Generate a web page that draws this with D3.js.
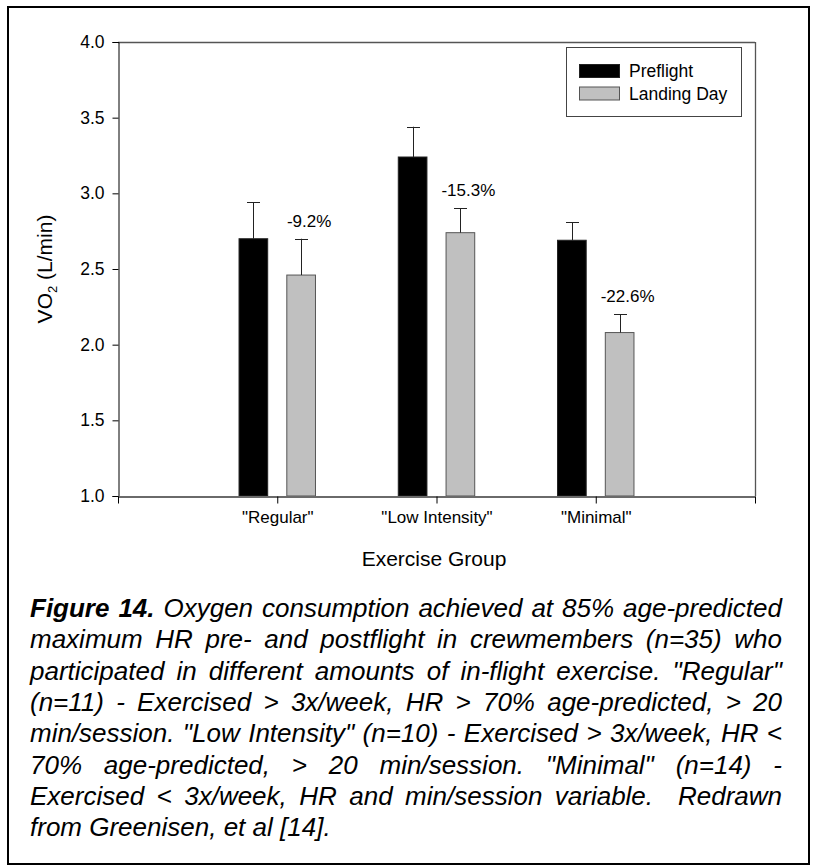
<!DOCTYPE html>
<html>
<head>
<meta charset="utf-8">
<script src="https://cdn.jsdelivr.net/npm/d3@7"></script>
<style>
  html, body { margin: 0; padding: 0; background: #fff; }
  svg { display: block; }
  text { font-family: "Liberation Sans", Arial, Helvetica, sans-serif; fill: #000; }
</style>
</head>
<body>
<svg id="chart" width="817" height="865"></svg>
<script>
// ---- data ----
const categories = ['"Regular"', '"Low Intensity"', '"Minimal"'];
const categoryPos = [1, 2, 3];
const seriesNames = ["Preflight", "Landing Day"];
const preflight = [2.70, 3.24, 2.69];
const preflightErr = [0.24, 0.20, 0.12];
const landing = [2.46, 2.74, 2.08];
const landingErr = [0.24, 0.16, 0.12];
const changeLabels = ["-9.2%", "-15.3%", "-22.6%"];
const yTicks = [1.0, 1.5, 2.0, 2.5, 3.0, 3.5, 4.0];
const xTicks = [0, 1, 2, 3, 4];
const captionLines = [
  "Figure 14. Oxygen consumption achieved at 85% age-predicted",
  "maximum HR pre- and postflight in crewmembers (n=35) who",
  "participated in different amounts of in-flight exercise. \"Regular\"",
  "(n=11) - Exercised > 3x/week, HR > 70% age-predicted, > 20",
  "min/session. \"Low Intensity\" (n=10) - Exercised > 3x/week, HR <",
  "70% age-predicted, > 20 min/session. \"Minimal\" (n=14) -",
  "Exercised < 3x/week, HR and min/session variable.  Redrawn",
  "from Greenisen, et al [14]."
];

// ---- layout ----
const svg = d3.select("#chart");
const plot = { left: 118, right: 755, top: 42, bottom: 496 };

svg.append("rect")
  .attr("x", 8).attr("y", 7).attr("width", 801).attr("height", 857)
  .attr("fill", "none").attr("stroke", "#000").attr("stroke-width", 2);

const x = d3.scaleLinear().domain([0, 4]).range([plot.left, plot.right]);
const y = d3.scaleLinear().domain([1, 4]).range([plot.bottom, plot.top]);

const barW = x(0.18) - x(0);
const offset = 0.15;

// frame top/right
svg.append("line").attr("x1", plot.left).attr("x2", plot.right)
  .attr("y1", plot.top + 0.5).attr("y2", plot.top + 0.5)
  .attr("stroke", "#555").attr("stroke-width", 1.3);
svg.append("line").attr("x1", plot.right + 0.5).attr("x2", plot.right + 0.5)
  .attr("y1", plot.top).attr("y2", plot.bottom)
  .attr("stroke", "#555").attr("stroke-width", 1.3);

// bars
const groups = categories.map((c, i) => ({ i, pos: categoryPos[i] }));
const g = svg.append("g");

g.selectAll("rect.pre").data(groups).join("rect")
  .attr("class", "pre")
  .attr("x", d => x(d.pos - offset) - barW / 2)
  .attr("width", barW)
  .attr("y", d => y(preflight[d.i]))
  .attr("height", d => y(1) - y(preflight[d.i]))
  .attr("fill", "#000").attr("stroke", "#222").attr("stroke-width", 1);

g.selectAll("rect.land").data(groups).join("rect")
  .attr("class", "land")
  .attr("x", d => x(d.pos + offset) - barW / 2)
  .attr("width", barW)
  .attr("y", d => y(landing[d.i]))
  .attr("height", d => y(1) - y(landing[d.i]))
  .attr("fill", "#c0c0c0").attr("stroke", "#555").attr("stroke-width", 1);

// error bars (upper only)
function errBars(vals, errs, off, cls) {
  const eg = g.selectAll("g." + cls).data(groups).join("g").attr("class", cls);
  eg.append("line")
    .attr("x1", d => Math.round(x(d.pos + off)) + 0.5)
    .attr("x2", d => Math.round(x(d.pos + off)) + 0.5)
    .attr("y1", d => y(vals[d.i]))
    .attr("y2", d => y(vals[d.i] + errs[d.i]))
    .attr("stroke", "#222").attr("stroke-width", 1);
  eg.append("line")
    .attr("x1", d => Math.round(x(d.pos + off)) - 6)
    .attr("x2", d => Math.round(x(d.pos + off)) + 7)
    .attr("y1", d => Math.round(y(vals[d.i] + errs[d.i])) + 0.5)
    .attr("y2", d => Math.round(y(vals[d.i] + errs[d.i])) + 0.5)
    .attr("stroke", "#222").attr("stroke-width", 1);
}
errBars(preflight, preflightErr, -offset, "epre");
errBars(landing, landingErr, offset, "eland");

// change labels
g.selectAll("text.chg").data(groups).join("text")
  .attr("class", "chg")
  .attr("x", d => x(d.pos + offset + 0.05))
  .attr("y", d => y(landing[d.i] + landingErr[d.i]) - 12)
  .attr("text-anchor", "middle")
  .attr("font-size", 17)
  .text(d => changeLabels[d.i]);

// axes
const yAxis = d3.axisLeft(y).tickValues(yTicks).tickFormat(d3.format(".1f")).tickSize(6).tickPadding(8);
const ya = svg.append("g").attr("transform", `translate(${plot.left + 0.5},0)`).call(yAxis);
ya.select(".domain").attr("stroke", "#000");
ya.selectAll(".tick line").attr("stroke", "#000");
ya.selectAll(".tick text").attr("font-size", 17.5).attr("font-family", '"Liberation Sans", Arial, sans-serif').attr("fill", "#000");

const xAxis = d3.axisBottom(x).tickValues(xTicks)
  .tickFormat(d => { const k = categoryPos.indexOf(d); return k >= 0 ? categories[k] : ""; })
  .tickSize(7).tickSizeOuter(0).tickPadding(7);
const xa = svg.append("g").attr("transform", `translate(0,${plot.bottom + 0.5})`).call(xAxis);
xa.select(".domain").attr("stroke", "#6a6a6a").attr("stroke-width", 1.8);
xa.selectAll(".tick line").attr("stroke", "#000");
xa.selectAll(".tick text").attr("font-size", 17).attr("font-family", '"Liberation Sans", Arial, sans-serif').attr("fill", "#000");

// axis titles
const yt = svg.append("text")
  .attr("transform", `translate(52,${(plot.top + plot.bottom) / 2}) rotate(-90)`)
  .attr("text-anchor", "middle")
  .attr("font-size", 21);
yt.append("tspan").text("VO");
yt.append("tspan").attr("font-size", 13).attr("dy", 5).text("2");
yt.append("tspan").attr("dy", -5).text(" (L/min)");

svg.append("text")
  .attr("x", 434).attr("y", 566)
  .attr("text-anchor", "middle")
  .attr("font-size", 21)
  .text("Exercise Group");

// legend
const lg = svg.append("g");
lg.append("rect").attr("x", 566.5).attr("y", 47.5).attr("width", 175).attr("height", 69)
  .attr("fill", "#fff").attr("stroke", "#444").attr("stroke-width", 1);
const legendFill = ["#000", "#c0c0c0"];
const legendStroke = ["#222", "#555"];
seriesNames.forEach((name, k) => {
  lg.append("rect").attr("x", 579.5).attr("y", 64.5 + k * 22.5).attr("width", 40).attr("height", 13)
    .attr("fill", legendFill[k]).attr("stroke", legendStroke[k]).attr("stroke-width", 1);
  lg.append("text").attr("x", 629).attr("y", 77 + k * 23).attr("font-size", 17.5).text(name);
});

// caption (justified)
const capLeft = 30, capRight = 782, capTop = 617, capLH = 31.3, capSize = 26;
captionLines.forEach((line, li) => {
  const words = line.split(" ");
  const yy = capTop + li * capLH;
  const nodes = words.map((w, wi) => {
    const t = svg.append("text")
      .attr("y", yy)
      .attr("font-size", capSize)
      .attr("font-style", "italic")
      .attr("font-weight", (li === 0 && wi < 2) ? "bold" : "normal")
      .text(w);
    return { t, w: w.length ? t.node().getComputedTextLength() : 0 };
  });
  const spaceW = capSize * 0.278;
  const total = nodes.reduce((s, n) => s + n.w, 0);
  const gaps = nodes.length - 1;
  const last = li === captionLines.length - 1;
  const gap = (last || gaps === 0) ? spaceW : (capRight - capLeft - total) / gaps;
  let cx = capLeft;
  nodes.forEach(n => { n.t.attr("x", cx); cx += n.w + gap; });
});
</script>
</body>
</html>
